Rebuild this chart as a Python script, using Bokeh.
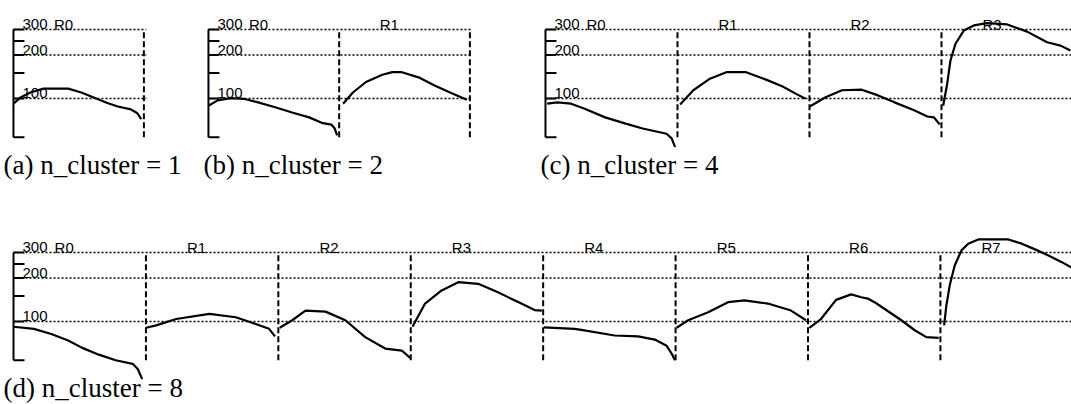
from bokeh.plotting import figure
from bokeh.models import Range1d, Title
from bokeh.layouts import column, row
from bokeh.core.properties import value
from bokeh.embed import file_html
from bokeh.resources import INLINE

# y axis: log scale, axis line runs from AXIS_MIN to AXIS_MAX
AXIS_MIN = 54
AXIS_MAX = 300
AXIS_TICKS = [54, 100, 150, 200, 250, 300]
GRID_LEVELS = [100, 200, 300]
TICK_LABELS = ["100", "200", "300"]

# Each curve: positions within its region (0..1) and values
# (a) n_cluster = 1
A_R0_X = [0.0, 0.05, 0.13, 0.23, 0.42, 0.52, 0.62, 0.72, 0.80, 0.90, 0.95, 0.98]
A_R0_V = [92, 101, 110, 117, 117, 110, 101, 93, 88, 84, 79, 72]

# (b) n_cluster = 2
B_R0_X = [0.0, 0.07, 0.17, 0.27, 0.38, 0.51, 0.64, 0.77, 0.875, 0.94, 0.966, 0.984]
B_R0_V = [89, 97, 100.5, 99.5, 94, 87, 80, 74, 67.5, 66, 62, 55.5]
B_R1_X = [0.03, 0.105, 0.205, 0.33, 0.406, 0.48, 0.607, 0.73, 0.857, 0.977]
B_R1_V = [92, 110, 130, 146, 152, 152, 140, 123, 109, 98]

# (c) n_cluster = 4
C_R0_X = [0.013, 0.09, 0.194, 0.297, 0.452, 0.607, 0.736, 0.917, 0.956, 0.982]
C_R0_V = [92, 94, 92, 85, 74, 67, 62, 57, 53, 46]
C_R1_X = [0.02, 0.12, 0.246, 0.37, 0.52, 0.671, 0.797, 0.895, 0.97]
C_R1_V = [91, 114, 137, 152, 152, 135, 121, 108, 99.5]
C_R2_X = [0.002, 0.122, 0.246, 0.396, 0.52, 0.644, 0.793, 0.893, 0.943, 0.987]
C_R2_V = [88, 102, 114, 115, 105, 94, 83, 75, 74, 66]
C_R3_X = [0.013, 0.043, 0.068, 0.106, 0.169, 0.245, 0.346, 0.498, 0.649, 0.80, 0.902, 0.977]
C_R3_V = [89, 126, 183, 239, 295, 320, 332, 325, 290, 245, 232, 215]

# (d) n_cluster = 8
D_R0_X = [0.0, 0.154, 0.285, 0.413, 0.515, 0.644, 0.772, 0.90, 0.938, 0.972]
D_R0_V = [92, 89, 82, 74, 66, 59, 54, 51, 47, 40]
D_R1_X = [0.002, 0.077, 0.228, 0.479, 0.679, 0.829, 0.93, 0.975]
D_R1_V = [90.5, 94, 104, 113, 107, 96, 89, 79]
D_R2_X = [0.01, 0.105, 0.205, 0.356, 0.506, 0.656, 0.807, 0.932, 0.995]
D_R2_V = [90.5, 102, 119, 117, 102, 78, 65, 63, 56]
D_R3_X = [0.013, 0.108, 0.233, 0.359, 0.509, 0.659, 0.835, 0.935, 0.99]
D_R3_V = [92, 133, 164, 187, 182, 159, 133, 120, 119]
D_R4_X = [0.005, 0.237, 0.288, 0.54, 0.717, 0.843, 0.932, 0.97, 0.995]
D_R4_V = [91, 89, 87.5, 80, 79, 75, 68, 60, 54]
D_R5_X = [0.008, 0.095, 0.246, 0.396, 0.521, 0.697, 0.872, 0.985]
D_R5_V = [90.5, 102, 116, 136, 140, 133, 119, 102]
D_R6_X = [0.01, 0.098, 0.212, 0.326, 0.402, 0.452, 0.502, 0.54, 0.705, 0.806, 0.894, 0.987]
D_R6_V = [90.5, 104, 141, 154, 147, 144, 136, 129, 102, 87, 78, 77]
D_R7_X = [0.028, 0.045, 0.07, 0.108, 0.159, 0.21, 0.286, 0.513, 0.614, 0.715, 0.816, 0.917, 0.992]
D_R7_V = [94, 129, 177, 244, 310, 345, 369, 369, 345, 315, 286, 257, 235]

CAPTIONS = ["(a) n_cluster = 1", "(b) n_cluster = 2", "(c) n_cluster = 4", "(d) n_cluster = 8"]

SANS = "Liberation Sans"
SERIF = "Liberation Serif"
CAPTION_SIZE = "27px"


def panel(curves, width, left, frame_w, height, frame_h, x_start, x_end, y_lo, y_hi):
    p = figure(width=width, height=height,
               x_range=Range1d(x_start, x_end), y_range=Range1d(y_lo, y_hi),
               y_axis_type="log", x_axis_location=None, y_axis_location=None,
               toolbar_location=None, output_backend="svg",
               min_border_left=left, min_border_right=width - left - frame_w,
               min_border_top=0, min_border_bottom=height - frame_h)
    p.outline_line_color = None
    p.background_fill_color = "white"
    p.border_fill_color = "white"
    p.grid.visible = False

    n = len(curves)
    # dotted horizontal reference lines, starting at the y axis
    k = len(GRID_LEVELS)
    p.segment(x0=[0] * k, y0=GRID_LEVELS, x1=[x_end] * k, y1=GRID_LEVELS,
              line_color="black", line_width=1.6, line_dash="2 2")

    # y axis line at x = 0 with short inward ticks
    p.segment(x0=[0], y0=[AXIS_MIN], x1=[0], y1=[AXIS_MAX],
              line_color="black", line_width=2)
    p.ray(x=[0] * len(AXIS_TICKS), y=AXIS_TICKS, length=11, length_units="screen",
          angle=0, line_color="black", line_width=2)

    # dashed region boundaries
    bounds = list(range(1, n + 1))
    p.segment(x0=bounds, y0=[AXIS_MIN] * n, x1=bounds, y1=[AXIS_MAX] * n,
              line_color="black", line_width=2, line_dash="6 3")

    for i, (xs, vs) in enumerate(curves):
        p.line([i + f for f in xs], vs, line_color="black", line_width=2.2)

    # tick labels sitting on the reference lines
    p.text(x=[0] * k, y=GRID_LEVELS, text=TICK_LABELS,
           x_offset=9, y_offset=-5, text_font=value(SANS), text_font_size="15px",
           text_baseline="middle", text_align="left", text_color="black")
    # region names
    p.text(x=[i + 0.31 for i in range(n)], y=[AXIS_MAX] * n,
           text=[f"R{i}" for i in range(n)], y_offset=-5,
           text_font=value(SANS), text_font_size="15px",
           text_baseline="middle", text_align="left", text_color="black")
    return p


def caption_below(p, text, offset):
    t = Title(text=text, align="left", offset=offset, standoff=0,
              text_font=SERIF, text_font_size=CAPTION_SIZE, text_font_style="normal",
              text_color="black")
    p.add_layout(t, "below")


TOP_LO, TOP_HI = 45.8, 476
BOT_LO, BOT_HI = 26.7, 412

pa = panel([(A_R0_X, A_R0_V)],
           width=200, left=11, frame_w=135, height=232, frame_h=147,
           x_start=-0.015, x_end=1.02, y_lo=TOP_LO, y_hi=TOP_HI)
caption_below(pa, CAPTIONS[0], -8)

pb = panel([(B_R0_X, B_R0_V), (B_R1_X, B_R1_V)],
           width=335, left=6, frame_w=266, height=232, frame_h=147,
           x_start=-0.015, x_end=2.02, y_lo=TOP_LO, y_hi=TOP_HI)
caption_below(pb, CAPTIONS[1], -3)

pc = panel([(C_R0_X, C_R0_V), (C_R1_X, C_R1_V), (C_R2_X, C_R2_V), (C_R3_X, C_R3_V)],
           width=536, left=8, frame_w=528, height=232, frame_h=147,
           x_start=-0.015, x_end=3.985, y_lo=TOP_LO, y_hi=TOP_HI)
caption_below(pc, CAPTIONS[2], -3)

pd = panel([(D_R0_X, D_R0_V), (D_R1_X, D_R1_V), (D_R2_X, D_R2_V), (D_R3_X, D_R3_V),
            (D_R4_X, D_R4_V), (D_R5_X, D_R5_V), (D_R6_X, D_R6_V), (D_R7_X, D_R7_V)],
           width=1071, left=0, frame_w=1071, height=172, frame_h=172,
           x_start=-0.0983, x_end=7.99, y_lo=BOT_LO, y_hi=BOT_HI)
# caption hangs under the foot of the y axis
pd.text(x=[0], y=[AXIS_MIN], text=[CAPTIONS[3]], x_offset=-10, y_offset=28,
        text_font=value(SERIF), text_font_size=CAPTION_SIZE,
        text_baseline="middle", text_align="left", text_color="black")

layout = column(row(pa, pb, pc, spacing=0), pd, spacing=0)

open("out.html", "w").write(file_html(layout, INLINE))
